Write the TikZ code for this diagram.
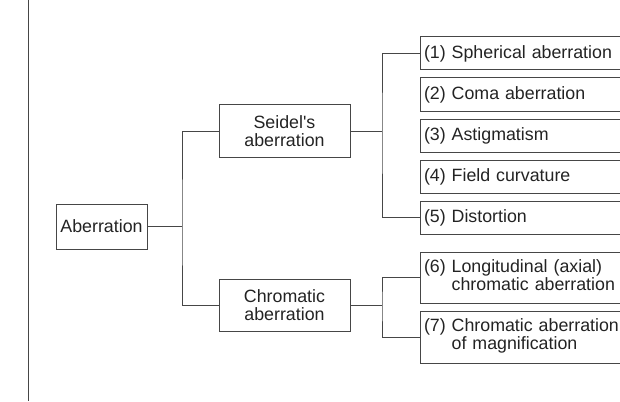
\documentclass[tikz,border=0pt]{standalone}
\usepackage{fontspec}
\setmainfont{Liberation Sans}
\usetikzlibrary{positioning}
\definecolor{ink}{RGB}{70,70,70}
\definecolor{txt}{RGB}{35,35,35}
\tikzset{
  box/.style={draw=ink,line width=1pt,inner sep=3.5pt,text=txt,
    font=\fontsize{17.8}{18}\selectfont},
  kind/.style={box,align=center,minimum width=131pt,minimum height=52pt},
  item/.style={box,anchor=west,align=left,text width=222pt,minimum height=33pt},
  link/.style={draw=ink,line width=1pt},
}
\newcommand{\hang}[2]{#1 \begin{tabular}[t]{@{}l@{}}#2\end{tabular}}

\begin{document}
\begin{tikzpicture}[x=1pt,y=-1pt]
  \useasboundingbox (0,0) rectangle (620,401);
  \clip (0,0) rectangle (620,401);
  % page rule
  \coordinate (rt) at (28,0);
  \coordinate (rb) at (28,401);
  \draw[link] (rt) -- (rb);
  % tree
  \node[box,minimum width=91pt,minimum height=45pt,inner sep=2pt] (abr) at (101.5,226.5) {Aberration};
  \node[kind] (sei) at (284.5,131) {Seidel\textquotesingle s\\ aberration};
  \node[kind] (chr) at (284.5,305.5) {Chromatic\\ aberration};
  \node[item] (s1) at (420,53.5) {(1) Spherical aberration};
  \node[item,below=7pt of s1] (s2) {(2) Coma aberration};
  \node[item,below=7pt of s2] (s3) {(3) Astigmatism};
  \node[item,below=7pt of s3] (s4) {(4) Field curvature};
  \node[item,below=7pt of s4] (s5) {(5) Distortion};
  \node[item,minimum height=51pt] (s6) at (420,277.5)
    {\hang{(6)}{Longitudinal (axial)\\ chromatic aberration}};
  \node[item,minimum height=52pt,below=7pt of s6] (s7)
    {\hang{(7)}{Chromatic aberration\\ of magnification}};
  % junctions
  \coordinate (jA) at (182,226.5);
  \coordinate (jS) at (382,131);
  \coordinate (jC) at (382,305.5);
  \draw[link] (abr) -- (jA);
  \draw[link] (sei.west) -| (jA) |- (chr.west);
  \draw[link] (sei) -- (jS);
  \draw[link] (s1.west) -| (jS) |- (s5.west);
  \draw[link] (chr) -- (jC);
  \draw[link] (s6.west) -| (jC) |- (s7.west);
\end{tikzpicture}
\end{document}
